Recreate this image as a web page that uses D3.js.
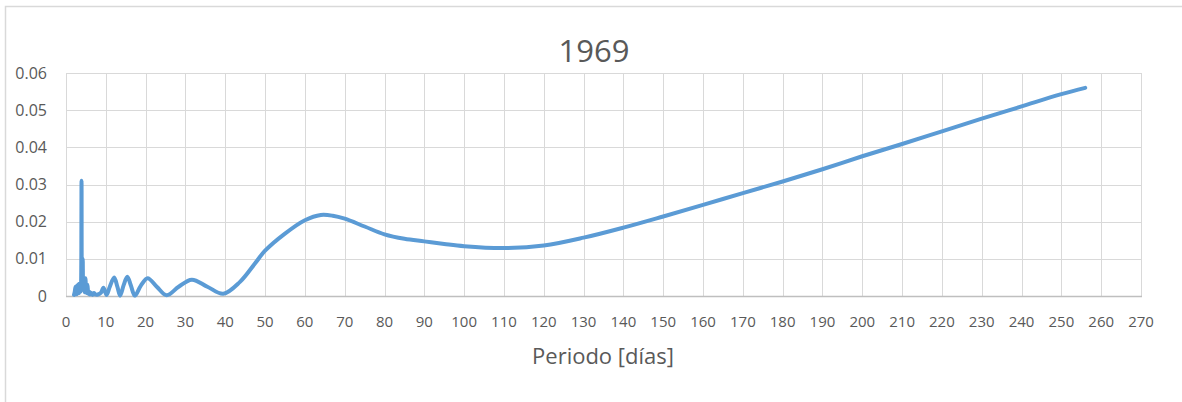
<!DOCTYPE html>
<html>
<head>
<meta charset="utf-8">
<script src="https://cdn.jsdelivr.net/npm/d3@7"></script>
<style>
  body { margin: 0; background: #fff; }
  svg { display: block; font-family: 'Open Sans', sans-serif; }
</style>
</head>
<body>
<div id="chart"></div>
<script>
// Periodo (días) and values
const periods = [
  2.0, 2.2, 2.4, 2.5, 2.6, 2.7, 2.8, 2.9, 3.0, 3.1, 3.2, 3.3, 3.4, 3.5, 3.6,
  3.7, 3.8, 3.9, 4.0, 4.1, 4.2, 4.3, 4.4, 4.5, 4.6, 4.7, 4.8, 4.9, 5.0, 5.2,
  5.4, 5.6, 5.8, 6.0, 6.3, 6.6, 7.0, 7.4, 8.0, 8.8, 9.4, 10.2, 11.0, 12.1,
  12.9, 13.6, 14.5, 15.4, 16.3, 17.3, 18.8, 20.5, 22.8, 25.3, 28.3, 31.6,
  35.5, 39.5, 43.7, 47.5, 50, 55, 60, 64, 67, 70, 75, 80, 85, 90, 95, 100,
  110, 120, 130, 140, 150, 160, 170, 180, 190, 200, 210, 220, 230, 240, 250,
  256,
];
const values = [
  0.0003, 0.0012, 0.0025, 0.0008, 0.0022, 0.0005, 0.0028, 0.001, 0.003,
  0.0015, 0.0032, 0.0008, 0.0026, 0.0018, 0.0035, 0.0012, 0.004, 0.031,
  0.002, 0.0045, 0.01, 0.003, 0.0042, 0.0015, 0.0035, 0.001, 0.0022, 0.0048,
  0.0025, 0.0008, 0.003, 0.0006, 0.0012, 0.0004, 0.0009, 0.0003, 0.0008,
  0.0004, 0.0004, 0.0009, 0.0022, 0.0003, 0.0025, 0.005, 0.0025, 0.0001,
  0.003, 0.0052, 0.0028, 0.0001, 0.0028, 0.0048, 0.0025, 0.0002, 0.0025,
  0.0044, 0.0025, 0.0006, 0.0038, 0.0088, 0.0122, 0.0168, 0.0204, 0.0218,
  0.0216, 0.0208, 0.0187, 0.0166, 0.0154, 0.0147, 0.014, 0.0134, 0.0129,
  0.0136, 0.0157, 0.0184, 0.0214, 0.0245, 0.0277, 0.0308, 0.0341, 0.0376,
  0.0409, 0.0443, 0.0477, 0.051, 0.0543, 0.056,
];

const xTicks = d3.range(0, 271, 10);
const yTicks = [0, 0.01, 0.02, 0.03, 0.04, 0.05, 0.06];

const chartTitle = '1969';
const xTitle = 'Periodo [días]';

const width = 1182;
const height = 402;
const plot = { left: 66, right: 1141, top: 73, bottom: 296 };

const data = periods.map((p, i) => ({ p, v: values[i] }));

const svg = d3
  .select('#chart')
  .append('svg')
  .attr('width', width)
  .attr('height', height);

svg.append('rect').attr('width', width).attr('height', height).attr('fill', '#fff');

// chart frame (cut off at the right and bottom in the original)
svg
  .append('path')
  .attr('d', `M5.5,${height + 5} V6.5 H${width + 5}`)
  .attr('fill', 'none')
  .attr('stroke', '#d9d9d9')
  .attr('stroke-width', 1.5);

const x = d3.scaleLinear().domain([0, 270]).range([plot.left, plot.right]);
const y = d3.scaleLinear().domain([0, 0.06]).range([plot.bottom, plot.top]);

// gridlines
const grid = svg.append('g').attr('class', 'grid');
grid
  .selectAll('line.v')
  .data(xTicks)
  .enter()
  .append('line')
  .attr('class', 'v')
  .attr('x1', (d) => Math.round(x(d)) + 0.5)
  .attr('x2', (d) => Math.round(x(d)) + 0.5)
  .attr('y1', plot.top)
  .attr('y2', plot.bottom)
  .attr('stroke', '#d9d9d9');

grid
  .selectAll('line.h')
  .data(yTicks.filter((d) => d > 0))
  .enter()
  .append('line')
  .attr('class', 'h')
  .attr('x1', plot.left)
  .attr('x2', plot.right)
  .attr('y1', (d) => Math.round(y(d)) + 0.5)
  .attr('y2', (d) => Math.round(y(d)) + 0.5)
  .attr('stroke', '#d9d9d9');

// x axis line
svg
  .append('line')
  .attr('x1', plot.left)
  .attr('x2', plot.right + 1)
  .attr('y1', Math.round(y(0)) + 0.5)
  .attr('y2', Math.round(y(0)) + 0.5)
  .attr('stroke', '#bfbfbf')
  .attr('stroke-width', 1.5);

// tick labels
svg
  .append('g')
  .selectAll('text')
  .data(xTicks)
  .enter()
  .append('text')
  .attr('x', (d) => x(d))
  .attr('y', 327)
  .attr('text-anchor', 'middle')
  .attr('fill', '#595959')
  .style('font-size', '15px')
  .text((d) => d);

svg
  .append('g')
  .selectAll('text')
  .data(yTicks)
  .enter()
  .append('text')
  .attr('x', 47)
  .attr('y', (d) => y(d) + 5.5)
  .attr('text-anchor', 'end')
  .attr('fill', '#595959')
  .style('font-size', '16px')
  .text((d) => (d === 0 ? '0' : d.toFixed(2)));

// titles
svg
  .append('text')
  .attr('x', 594)
  .attr('y', 62)
  .attr('text-anchor', 'middle')
  .attr('fill', '#595959')
  .style('font-size', '31px')
  .text(chartTitle);

svg
  .append('text')
  .attr('x', 603)
  .attr('y', 364)
  .attr('text-anchor', 'middle')
  .attr('fill', '#595959')
  .style('font-size', '22px')
  .text(xTitle);

// the series, smoothed like the spreadsheet line
const line = d3
  .line()
  .x((d) => x(d.p))
  .y((d) => y(d.v))
  .curve(d3.curveCatmullRom.alpha(0.5));

svg
  .append('path')
  .datum(data)
  .attr('d', line)
  .attr('fill', 'none')
  .attr('stroke', '#5b9bd5')
  .attr('stroke-width', 4)
  .attr('stroke-linejoin', 'round')
  .attr('stroke-linecap', 'round');
</script>
</body>
</html>
